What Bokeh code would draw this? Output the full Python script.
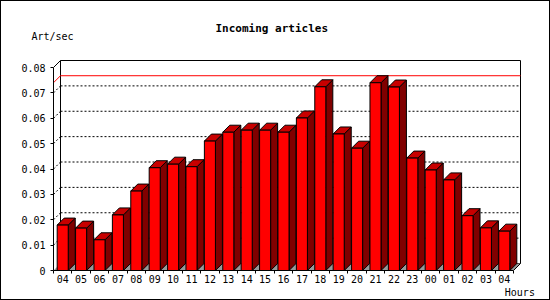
from bokeh.plotting import figure
from bokeh.models import Range1d, FixedTicker, Label
from bokeh.embed import file_html
from bokeh.resources import INLINE

# ---- data ----
hours = ["04", "05", "06", "07", "08", "09", "10", "11", "12", "13", "14", "15", "16",
         "17", "18", "19", "20", "21", "22", "23", "00", "01", "02", "03", "04"]
rates = [0.0179, 0.0167, 0.0121, 0.0219, 0.0313, 0.0405, 0.0419, 0.0409, 0.0510, 0.0545,
         0.0553, 0.0553, 0.0545, 0.0601, 0.0724, 0.0538, 0.0482, 0.0740, 0.0723, 0.0443,
         0.0396, 0.0357, 0.0216, 0.0168, 0.0155]
y_ticks = [0.0, 0.01, 0.02, 0.03, 0.04, 0.05, 0.06, 0.07, 0.08]
y_tick_labels = ["0", "0.01", "0.02", "0.03", "0.04", "0.05", "0.06", "0.07", "0.08"]
chart_title = "Incoming articles"
y_title = "Art/sec"
x_title = "Hours"

# ---- geometry / style ----
FONT = "DejaVu Sans Mono"
U = 18.4                 # px per hour slot
PPU = 203.0 / 0.08       # px per unit of rate
FRAME_W, FRAME_H = 470, 212
DX = 7.0 / U             # 3D depth, x
DY = 7.0 / PPU           # 3D depth, y
n = len(hours)
ymax = y_ticks[-1]

p = figure(width=550, height=300, output_backend="svg", toolbar_location=None,
           x_range=Range1d(0, FRAME_W / U), y_range=Range1d(0, FRAME_H / PPU),
           min_border_left=53, min_border_right=27, min_border_top=58, min_border_bottom=30)
p.outline_line_color = None
p.xgrid.visible = False
p.ygrid.visible = False
p.background_fill_color = "white"
p.border_fill_color = None
p.styles = {"background-color": "white", "box-shadow": "inset 0 0 0 1px black"}

# back wall
p.quad(left=DX, right=n + DX, bottom=DY, top=ymax + DY,
       fill_color="white", line_color="black", line_width=1)
# floor
p.patch([0, n, n + DX, DX], [0, 0, DY, DY], fill_color="#999999", line_color=None)

# dotted grid on back wall + slanted connectors
gv = y_ticks[1:-1]
p.segment(x0=[DX] * len(gv), y0=[v + DY for v in gv], x1=[n + DX] * len(gv),
          y1=[v + DY for v in gv], line_color="black", line_dash="2 2", line_width=1)
p.segment(x0=[0] * len(gv), y0=gv, x1=[DX] * len(gv), y1=[v + DY for v in gv],
          line_color="black", line_dash="2 2", line_width=1)

# max line (red)
m = max(rates)
p.segment(x0=[0, DX], y0=[m, m + DY], x1=[DX, n + DX], y1=[m + DY, m + DY],
          line_color="#ff0000", line_width=1)

# bars
left = [i + 0.2 for i in range(n)]
right = [i + 0.8 for i in range(n)]
side_xs = [[r, r + DX, r + DX, r] for r in right]
side_ys = [[0, DY, v + DY, v] for v in rates]
top_xs = [[l, l + DX, r + DX, r] for l, r in zip(left, right)]
top_ys = [[v, v + DY, v + DY, v] for v in rates]
p.patches(side_xs, side_ys, fill_color="#800000", line_color="black", line_width=1)
p.patches(top_xs, top_ys, fill_color="#c80000", line_color="black", line_width=1)
p.quad(left=left, right=right, bottom=0, top=rates,
       fill_color="#ff0000", line_color="black", line_width=1)

# 3D axis continuation
p.segment(x0=[0, n], y0=[ymax, 0], x1=[DX, n + DX], y1=[ymax + DY, DY],
          line_color="black", line_width=1)

# axes
ya = p.yaxis[0]
ya.bounds = (0, ymax)
ya.ticker = FixedTicker(ticks=y_ticks, minor_ticks=[])
ya.major_label_overrides = {t: s for t, s in zip(y_ticks, y_tick_labels)}
ya.major_tick_out = 3
ya.major_tick_in = 0
ya.minor_tick_line_color = None
ya.major_label_standoff = 5
ya.major_label_text_font = FONT
ya.major_label_text_font_size = "10px"
ya.major_label_text_color = "black"
ya.axis_line_color = "black"

xa = p.xaxis[0]
xa.bounds = (0, n)
centers = [i + 0.5 for i in range(n)]
xa.ticker = FixedTicker(ticks=centers, minor_ticks=list(range(n + 1)))
xa.major_label_overrides = {c: h for c, h in zip(centers, hours)}
xa.major_tick_line_color = None
xa.major_tick_out = 3
xa.major_tick_in = 0
xa.minor_tick_out = 3
xa.minor_tick_in = 0
xa.minor_tick_line_color = "black"
xa.major_label_standoff = 1
xa.major_label_text_font = FONT
xa.major_label_text_font_size = "10px"
xa.major_label_text_color = "black"
xa.axis_line_color = "black"

# texts
p.title.text = chart_title
p.title.align = "left"
p.title.offset = 162
p.title.standoff = 25
p.title.text_font = FONT
p.title.text_font_size = "11px"
p.title.text_font_style = "bold"
p.title.text_color = "black"

p.add_layout(Label(x=(31 - 53) / U, y=(270 - 36.2) / PPU, text=y_title,
                   text_align="left", text_baseline="alphabetic", text_font=FONT,
                   text_font_size="10px", text_color="black"), "above")
p.add_layout(Label(x=(504.3 - 53) / U, y=(270 - 292) / PPU, text=x_title,
                   text_align="left", text_baseline="alphabetic", text_font=FONT,
                   text_font_size="10px", text_color="black"), "below")

open("out.html", "w").write(file_html(p, INLINE))
